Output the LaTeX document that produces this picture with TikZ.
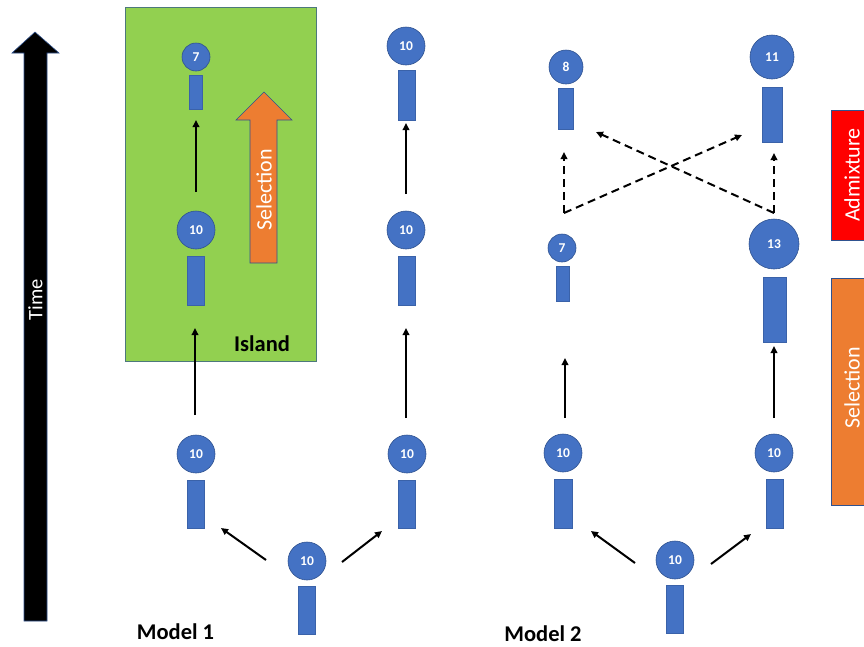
\documentclass[tikz,border=0pt]{standalone}
\usepackage{fontspec}
\setmainfont{Carlito}
\usetikzlibrary{arrows.meta}
\definecolor{nodeblue}{HTML}{4472C4}
\definecolor{edgeblue}{HTML}{2F528F}
\definecolor{islandgreen}{HTML}{92D050}
\definecolor{selorange}{HTML}{ED7D31}
\definecolor{admred}{HTML}{FF0000}
\begin{document}
\begin{tikzpicture}[x=1pt,y=-1pt,
  pop/.style={circle, fill=nodeblue, draw=edgeblue, line width=0.6pt, inner sep=0pt, minimum size=#1, text=white, font=\bfseries\fontsize{13.5}{14}\selectfont},
  bar/.style 2 args={rectangle, fill=nodeblue, draw=edgeblue!50!nodeblue, line width=0.5pt, inner sep=0pt, minimum width=#1, minimum height=#2},
  flow/.style={line width=2pt, -{Triangle[length=7pt,width=6.5pt]}},
  mix/.style={line width=2pt, dash pattern=on 8pt off 5pt, -{Triangle[length=7pt,width=6.5pt]}},
  lbl/.style={font=\bfseries\fontsize{22.5}{26}\selectfont, text=black, inner sep=0pt},
  vlbl/.style={rotate=90, text=white, font=\fontsize{22}{26}\selectfont, inner sep=0pt},
  bigarrow/.style={draw=edgeblue, line width=0.6pt},
  sidebox/.style={draw=edgeblue, line width=0.6pt}
]
\useasboundingbox (0,0) rectangle (864,646);

% Time arrow
\filldraw[bigarrow, fill=black] (24,621) -- (24,53) -- (12,53) -- (35,32) -- (59,53) -- (47,53) -- (47,621) -- cycle;
\node[vlbl, font=\fontsize{20.5}{24}\selectfont] (time) at (35.5,300) {Time};

% Island
\filldraw[draw=edgeblue!70!islandgreen, line width=0.8pt, fill=islandgreen] (125,7) rectangle (316,361);
\node[lbl] (island) at (262,344) {Island};
\filldraw[bigarrow, fill=selorange] (250,263) -- (250,120) -- (236,120) -- (264,92) -- (292,120) -- (277,120) -- (277,263) -- cycle;
\node[vlbl] (sel1) at (264,190) {Selection};

% Side boxes
\filldraw[sidebox, fill=admred] (831,110) rectangle (874,240);
\node[vlbl] (admix) at (852,175) {Admixture};
\filldraw[sidebox, fill=selorange] (831,278) rectangle (874,505);
\node[vlbl] (sel2) at (852,388) {Selection};

% Model 1 populations
\node[pop=28pt] (a1) at (196,57) {7};
\node[bar={13pt}{34pt}] (a1b) at (195.5,92) {};
\node[pop=38pt] (b1) at (196,230) {10};
\node[bar={17pt}{49pt}] (b1b) at (195.5,280.5) {};
\node[pop=38pt] (c1) at (196,454) {10};
\node[bar={17pt}{48pt}] (c1b) at (195.5,504) {};
\node[pop=38pt] (d1) at (406,46) {10};
\node[bar={17pt}{50pt}] (d1b) at (406.5,95) {};
\node[pop=38pt] (e1) at (406,230) {10};
\node[bar={17pt}{49pt}] (e1b) at (406.5,280.5) {};
\node[pop=38pt] (f1) at (407,454) {10};
\node[bar={17pt}{48pt}] (f1b) at (407,504) {};
\node[pop=38pt] (r1) at (307,561) {10};
\node[bar={17pt}{48pt}] (r1b) at (306.5,610) {};

\coordinate (p1) at (196,192); \coordinate (q1) at (196,120);
\coordinate (p2) at (195,415); \coordinate (q2) at (195,328);
\coordinate (p3) at (406,194); \coordinate (q3) at (406,123);
\coordinate (p4) at (406,418); \coordinate (q4) at (406,328);
\coordinate (p5) at (266,560); \coordinate (q5) at (221,528);
\coordinate (p6) at (342,562); \coordinate (q6) at (382,531);
\draw[flow] (p1) -- (q1);
\draw[flow] (p2) -- (q2);
\draw[flow] (p3) -- (q3);
\draw[flow] (p4) -- (q4);
\draw[flow] (p5) -- (q5);
\draw[flow] (p6) -- (q6);
\node[lbl] (model1) at (175.5,632) {Model 1};

% Model 2 populations
\node[pop=34pt] (a2) at (566,67) {8};
\node[bar={15pt}{41pt}] (a2b) at (565.5,108.5) {};
\node[pop=44pt] (b2) at (772,57) {11};
\node[bar={20pt}{55pt}] (b2b) at (772,114.5) {};
\node[pop=28pt] (c2) at (562,248) {7};
\node[bar={13pt}{35pt}] (c2b) at (562.5,283.5) {};
\node[pop=50pt] (d2) at (774,244) {13};
\node[bar={23pt}{65pt}] (d2b) at (774.5,309.5) {};
\node[pop=38pt] (e2) at (563,453) {10};
\node[bar={18pt}{49pt}] (e2b) at (563,503.5) {};
\node[pop=38pt] (f2) at (774,453) {10};
\node[bar={17pt}{49pt}] (f2b) at (774.5,503.5) {};
\node[pop=38pt] (r2) at (675,560) {10};
\node[bar={17pt}{48pt}] (r2b) at (674.5,609) {};

\coordinate (s1) at (565,418); \coordinate (t1) at (565,358);
\coordinate (s2) at (774,418); \coordinate (t2) at (774,346);
\coordinate (s3) at (635,563); \coordinate (t3) at (591,531);
\coordinate (s4) at (711,564); \coordinate (t4) at (751,534);
\draw[flow] (s1) -- (t1);
\draw[flow] (s2) -- (t2);
\draw[flow] (s3) -- (t3);
\draw[flow] (s4) -- (t4);

\coordinate (mixL) at (564,213); \coordinate (mixR) at (774,213);
\coordinate (upL) at (564,152); \coordinate (upR) at (774,153);
\coordinate (toR) at (742,135); \coordinate (toL) at (596,132);
\draw[mix] (mixL) -- (upL);
\draw[mix] (mixL) -- (toR);
\draw[mix] (mixR) -- (upR);
\draw[mix] (mixR) -- (toL);
\node[lbl] (model2) at (543,634) {Model 2};
\end{tikzpicture}
\end{document}
